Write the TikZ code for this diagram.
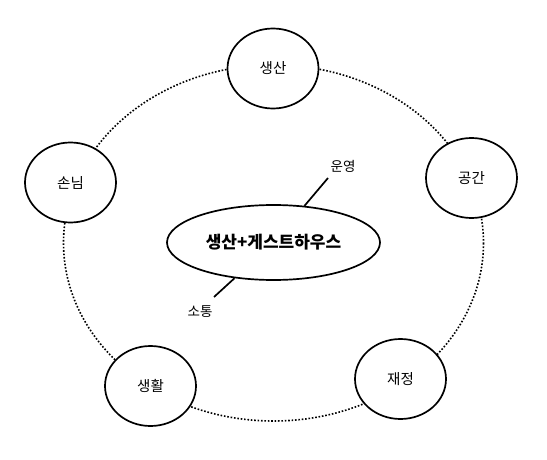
\documentclass[tikz,border=0pt]{standalone}
\usepackage{fontspec}
\setmainfont{Noto Sans CJK KR}
\newfontfamily\krfont{Noto Sans CJK KR}
\usetikzlibrary{shapes.geometric}
\begin{document}
\begin{tikzpicture}[x=1pt,y=-1pt,
  topic/.style={draw=black, line width=1.7pt, fill=white, ellipse,
    minimum width=91pt, minimum height=80pt, inner sep=0pt,
    font=\krfont\fontsize{14.5}{16}\selectfont},
  hub/.style={draw=black, line width=1.7pt, fill=white, ellipse,
    minimum width=213pt, minimum height=75pt, inner sep=0pt,
    font=\krfont\bfseries\fontsize{17}{20}\selectfont},
  ring/.style={draw=black, line width=1.6pt, dash pattern=on 1.6pt off 1.8pt},
  tick/.style={draw=black, line width=1.7pt},
  note/.style={font=\krfont\fontsize{13.5}{15}\selectfont, inner sep=0pt}]
\useasboundingbox (0,0) rectangle (547,460);
\fill[white] (0,0) rectangle (547,460);
% dotted ring behind the nodes
\draw[ring] (273.5,243) ellipse [x radius=210, y radius=178];
% nodes
\node[topic] (prod) at (273,68.5) {생산};
\node[topic] (space) at (471.5,178) {공간};
\node[topic] (fin) at (400.5,379) {재정};
\node[topic] (life) at (150.5,386) {생활};
\node[topic] (guest) at (70.5,182.5) {손님};
\node[hub] (hub) at (273.5,242.5) {생산+게스트하우스};
% labels
\node[note] (op) at (343,166) {운영};
\node[note] (com) at (200,312) {소통};
\coordinate (opEnd) at (328,178);
\coordinate (comEnd) at (214,297);
\draw[tick] (opEnd) -- (hub);
\draw[tick] (comEnd) -- (hub);
\end{tikzpicture}
\end{document}
